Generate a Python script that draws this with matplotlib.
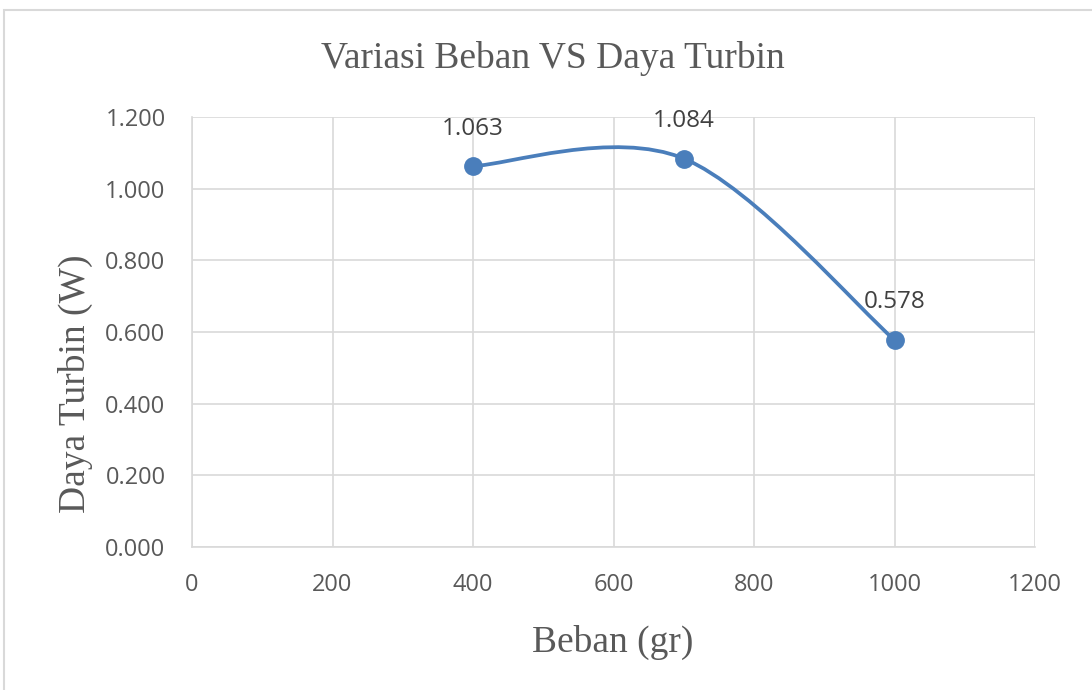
import numpy as np
import matplotlib
matplotlib.use("Agg")
import matplotlib.pyplot as plt
from matplotlib.path import Path
from matplotlib.patches import PathPatch, Rectangle

# Data
beban = [400, 700, 1000]
daya = [1.063, 1.084, 0.578]
labels = ["1.063", "1.084", "0.578"]
xticks = [0, 200, 400, 600, 800, 1000, 1200]
yticks = [0.0, 0.2, 0.4, 0.6, 0.8, 1.0, 1.2]

title = "Variasi Beban VS Daya Turbin"
xlabel = "Beban (gr)"
ylabel = "Daya Turbin (W)"

W, H = 1092, 690
fig = plt.figure(figsize=(W / 100, H / 100), dpi=100)
fig.patch.set_facecolor("white")

# outer chart border (light gray)
fig.patches.append(Rectangle((4 / W, -0.05), 1.1, (H - 10) / H + 0.05,
                             transform=fig.transFigure, fill=False,
                             edgecolor="#d9d9d9", linewidth=1.5))

ax = fig.add_axes([192 / W, (H - 547) / H, (1035 - 192) / W, (547 - 117) / H])
ax.set_xlim(0, 1200)
ax.set_ylim(0, 1.2)
ax.set_xticks(xticks)
ax.set_yticks(yticks)
ax.set_xticklabels([str(v) for v in xticks])
ax.set_yticklabels([f"{v:.3f}" for v in yticks])
ax.grid(True, color="#d9d9d9", linewidth=1.2)
ax.set_axisbelow(True)
for s in ["top", "right"]:
    ax.spines[s].set_visible(False)
for s in ["left", "bottom"]:
    ax.spines[s].set_color("#d9d9d9")
    ax.spines[s].set_linewidth(1.2)
ax.tick_params(length=0, colors="#595959", labelsize=17)
ax.tick_params(axis="y", pad=19)
ax.tick_params(axis="x", pad=19)
for t in ax.get_xticklabels() + ax.get_yticklabels():
    t.set_family(["Open Sans", "DejaVu Sans"])
    t.set_color("#595959")

# Excel-style smoothed line (cardinal Bezier, tension 1/6)
pts = np.column_stack([beban, daya])
n = len(pts)
verts = [tuple(pts[0])]
codes = [Path.MOVETO]
for i in range(n - 1):
    p0 = pts[max(i - 1, 0)]
    p1 = pts[i]
    p2 = pts[i + 1]
    p3 = pts[min(i + 2, n - 1)]
    c1 = p1 + (p2 - p0) / 6.0
    c2 = p2 - (p3 - p1) / 6.0
    verts += [tuple(c1), tuple(c2), tuple(p2)]
    codes += [Path.CURVE4] * 3
line_color = "#4a7ebb"
ax.add_patch(PathPatch(Path(verts, codes), facecolor="none",
                       edgecolor=line_color, linewidth=2.7, capstyle="round"))
ax.plot(beban, daya, linestyle="none", marker="o", markersize=12.5,
        color=line_color, zorder=3, clip_on=False)

for x, y, lab in zip(beban, daya, labels):
    ax.annotate(lab, (x, y), xytext=(0, 27), textcoords="offset points",
                ha="center", va="center", fontsize=17.5, color="#404040",
                family=["Open Sans", "DejaVu Sans"])

fig.text((318 + 787) / 2 / W, 1 - 58 / H, title, ha="center", va="center",
         fontsize=27, color="#595959", family=["Liberation Serif"])
fig.text(613 / W, 1 - 642 / H, xlabel, ha="center", va="center",
         fontsize=27, color="#595959", family=["Liberation Serif"])
fig.text(75 / W, 1 - 384 / H, ylabel, ha="center", va="center",
         rotation=90, fontsize=27, color="#595959", family=["Liberation Serif"])

fig.savefig("out.png", dpi=100)
